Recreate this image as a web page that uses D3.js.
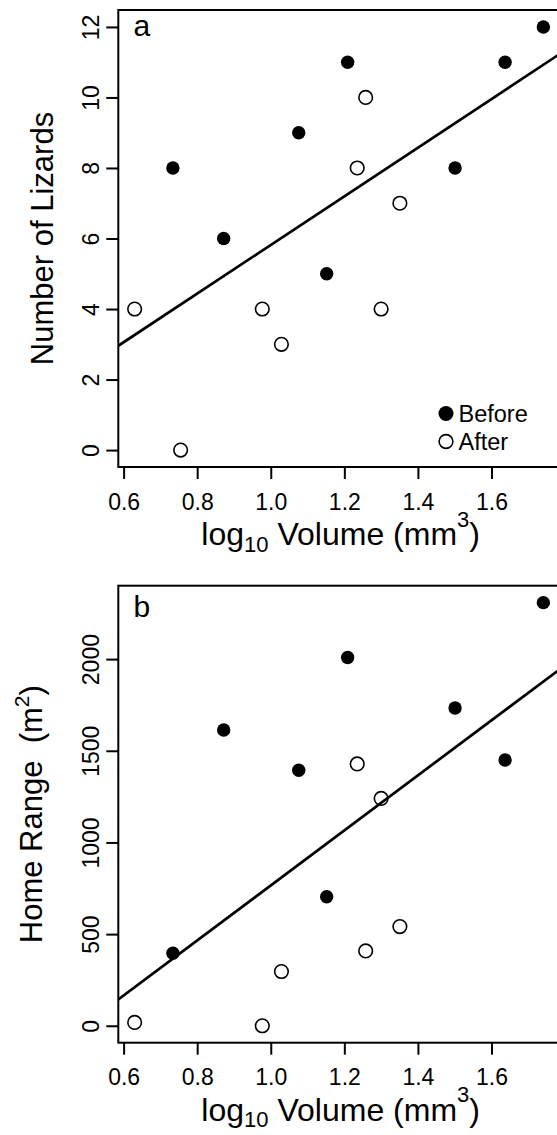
<!DOCTYPE html>
<html>
<head>
<meta charset="utf-8">
<script src="https://cdn.jsdelivr.net/npm/d3@7"></script>
<style>
  html, body { margin: 0; padding: 0; background: #fff; }
  svg { display: block; }
  text { font-family: "Liberation Sans", Arial, sans-serif; fill: #000; }
</style>
</head>
<body>
<svg id="chart" width="557" height="1135"></svg>
<script>
// ---- data ----
const xBefore = [0.734, 0.872, 1.076, 1.152, 1.209, 1.501, 1.637, 1.741];
const xAfter  = [0.630, 0.755, 0.977, 1.029, 1.235, 1.258, 1.300, 1.351];
const lizardsBefore = [8, 6, 9, 5, 11, 8, 11, 12];
const lizardsAfter  = [4, 0, 4, 3, 8, 10, 4, 7];
const homeBefore = [396, 1613, 1394, 704, 2009, 1733, 1450, 2308];
const homeAfter  = [18, null, 0, 296, 1428, 408, 1240, 541];
const xTicks = [0.6, 0.8, 1.0, 1.2, 1.4, 1.6];
const lizardTicks = [0, 2, 4, 6, 8, 10, 12];
const homeTicks = [0, 500, 1000, 1500, 2000];
const legendLabels = ["Before", "After"];

const svg = d3.select("#chart");

function padExtent(vals) {
  const e = d3.extent(vals);
  const r = e[1] - e[0];
  return [e[0] - 0.04 * r, e[1] + 0.04 * r];
}

function ols(pts) {
  const mx = d3.mean(pts, d => d[0]), my = d3.mean(pts, d => d[1]);
  const sxy = d3.sum(pts, d => (d[0] - mx) * (d[1] - my));
  const sxx = d3.sum(pts, d => (d[0] - mx) ** 2);
  const b = sxy / sxx;
  return { a: my - b * mx, b };
}

function panel(opts) {
  const { top, yBefore, yAfter, yTicks, yTickFmt, label, labelBase, yTitle, yTitleX, id, legend } = opts;
  const left = 118.3, right = 559.7, bottom = top + 457;
  const before = xBefore.map((x, i) => [x, yBefore[i]]).filter(d => d[1] != null);
  const after = xAfter.map((x, i) => [x, yAfter[i]]).filter(d => d[1] != null);
  const all = before.concat(after);

  const x = d3.scaleLinear().domain(padExtent(all.map(d => d[0]))).range([left, right]);
  const y = d3.scaleLinear().domain(padExtent(all.map(d => d[1]))).range([bottom, top]);

  const g = svg.append("g");

  g.append("clipPath").attr("id", id).append("rect")
    .attr("x", left).attr("y", top).attr("width", right - left).attr("height", bottom - top);

  // regression line
  const fit = ols(all);
  const dom = x.domain();
  g.append("line")
    .attr("clip-path", `url(#${id})`)
    .attr("x1", x(dom[0])).attr("y1", y(fit.a + fit.b * dom[0]))
    .attr("x2", x(dom[1])).attr("y2", y(fit.a + fit.b * dom[1]))
    .attr("stroke", "#000").attr("stroke-width", 2.7);

  // points
  g.selectAll(".pb").data(before).join("circle")
    .attr("cx", d => x(d[0])).attr("cy", d => y(d[1])).attr("r", 6.7).attr("fill", "#000");
  g.selectAll(".pa").data(after).join("circle")
    .attr("cx", d => x(d[0])).attr("cy", d => y(d[1])).attr("r", 6.8)
    .attr("fill", "none").attr("stroke", "#000").attr("stroke-width", 1.6);

  // box
  g.append("rect").attr("x", left).attr("y", top).attr("width", right - left).attr("height", bottom - top)
    .attr("fill", "none").attr("stroke", "#000").attr("stroke-width", 2);

  // x axis
  const xAxis = d3.axisBottom(x).tickValues(xTicks).tickSize(12).tickPadding(0).tickFormat(d3.format(".1f"));
  const xa = g.append("g").attr("transform", `translate(0,${bottom})`).call(xAxis);
  xa.select(".domain").remove();
  xa.selectAll(".tick line").attr("stroke", "#000").attr("stroke-width", 2);
  xa.selectAll(".tick text").attr("font-size", 23).attr("dy", null).attr("y", 42.7)
    .attr("font-family", "Liberation Sans, Arial, sans-serif").attr("fill", "#000");

  // y axis
  const yAxis = d3.axisLeft(y).tickValues(yTicks).tickSize(12).tickFormat(yTickFmt);
  const ya = g.append("g").attr("transform", `translate(${left},0)`).call(yAxis);
  ya.select(".domain").remove();
  ya.selectAll(".tick line").attr("stroke", "#000").attr("stroke-width", 2);
  ya.selectAll(".tick text")
    .attr("x", null).attr("dy", null)
    .attr("transform", "translate(-19.5,0) rotate(-90)")
    .attr("text-anchor", "middle")
    .attr("font-size", 23)
    .attr("font-family", "Liberation Sans, Arial, sans-serif").attr("fill", "#000");

  // panel label
  g.append("text").attr("x", 133.5).attr("y", top + labelBase).attr("font-size", 30).text(label);

  // x title
  const xt = g.append("text").attr("x", (left + 563) / 2).attr("y", bottom + 78)
    .attr("text-anchor", "middle").attr("font-size", 32);
  xt.append("tspan").text("log");
  xt.append("tspan").attr("font-size", 22).attr("dy", 6.7).text("10");
  xt.append("tspan").attr("dy", -6.7).text(" Volume (mm");
  xt.append("tspan").attr("font-size", 22).attr("dy", -18.3).text("3");
  xt.append("tspan").attr("dy", 18.3).text(")");

  // y title
  const yt = g.append("text")
    .attr("transform", `translate(${yTitleX},${(top + bottom) / 2}) rotate(-90)`)
    .attr("text-anchor", "middle").attr("font-size", 31).attr("xml:space", "preserve");
  yTitle(yt);

  if (legend) {
    const rows = [{ label: legendLabels[0], filled: true }, { label: legendLabels[1], filled: false }];
    rows.forEach((r, i) => {
      const cy = 413.5 + i * 28;
      const c = g.append("circle").attr("cx", 446).attr("cy", cy).attr("r", r.filled ? 7.5 : 6.9);
      if (r.filled) c.attr("fill", "#000");
      else c.attr("fill", "none").attr("stroke", "#000").attr("stroke-width", 1.6);
      g.append("text").attr("x", 458.5).attr("y", cy + 8.2).attr("font-size", 23.5).text(r.label);
    });
  }
}

panel({
  id: "clipA", top: 10, yBefore: lizardsBefore, yAfter: lizardsAfter, yTicks: lizardTicks,
  yTickFmt: d3.format("d"), label: "a", labelBase: 26, yTitleX: 53.3, legend: true,
  yTitle: t => t.text("Number of Lizards")
});

panel({
  id: "clipB", top: 585.7, yBefore: homeBefore, yAfter: homeAfter, yTicks: homeTicks,
  yTickFmt: d3.format("d"), label: "b", labelBase: 31.6, yTitleX: 41.7, legend: false,
  yTitle: t => {
    t.append("tspan").text("Home Range  (m");
    t.append("tspan").attr("font-size", 21).attr("dy", -13).text("2");
    t.append("tspan").attr("dy", 13).text(")");
  }
});
</script>
</body>
</html>
